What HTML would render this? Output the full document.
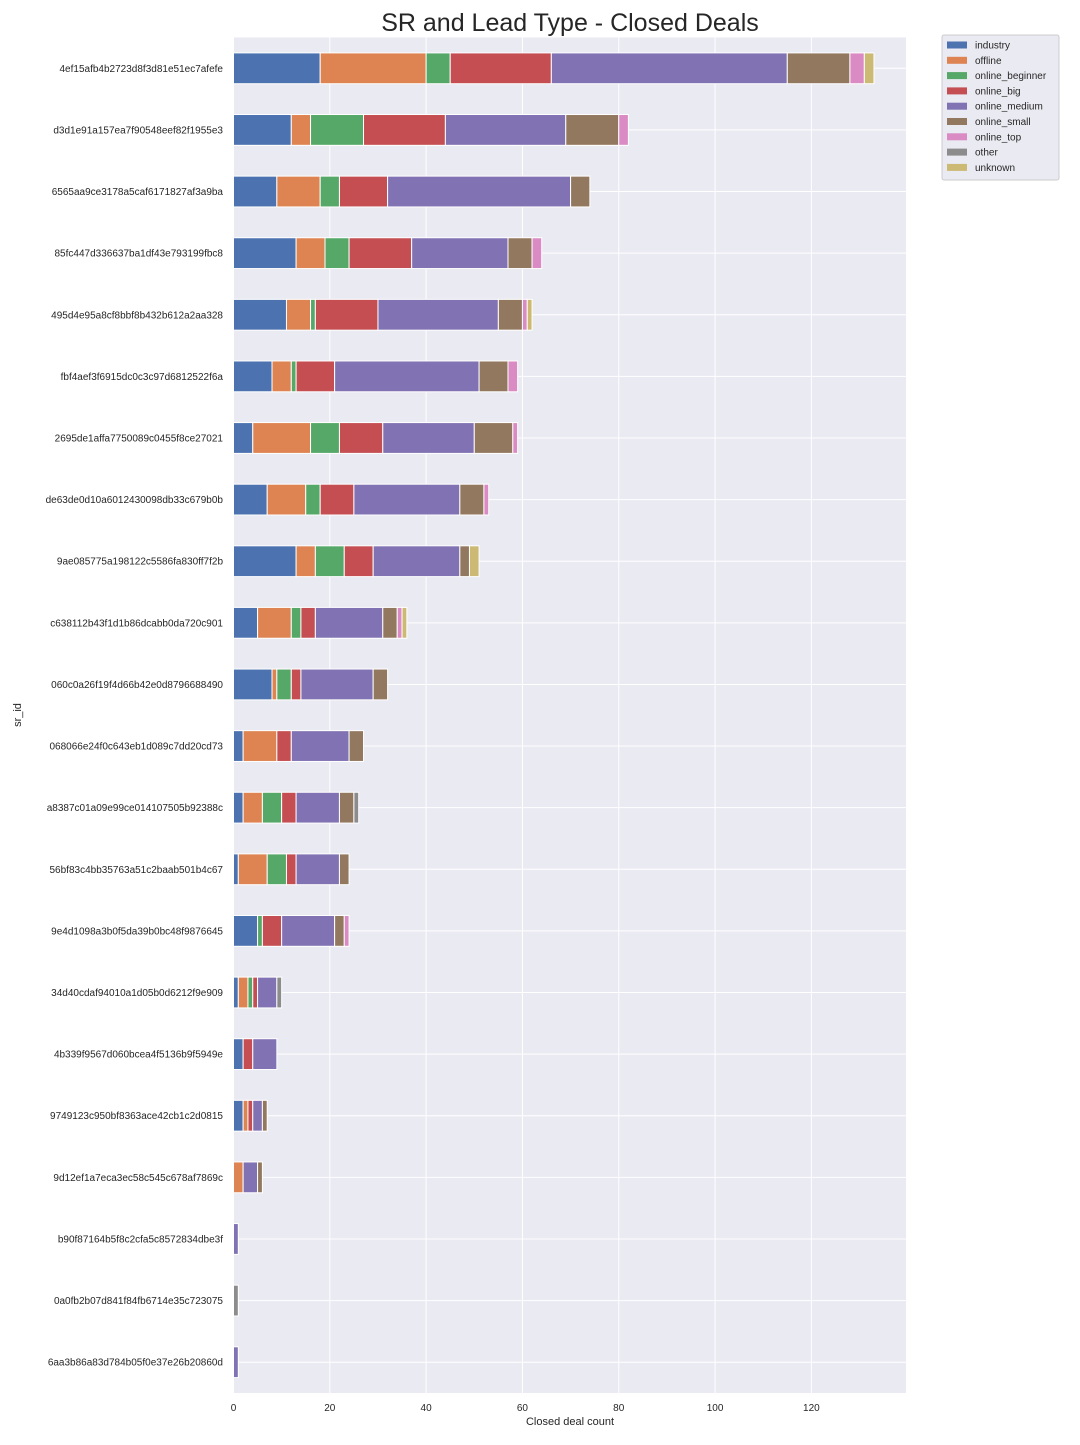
<!DOCTYPE html>
<html><head><meta charset="utf-8"><style>
body{margin:0;background:#fff;font-family:"Liberation Sans",sans-serif;}
svg text{font-family:"Liberation Sans",sans-serif;fill:#262626;}
</style></head><body>
<svg id="chart" width="1080" height="1440" xmlns="http://www.w3.org/2000/svg">
<rect x="0" y="0" width="1080" height="1440" fill="#fff"/>
<text x="570" y="31" font-size="25" text-anchor="middle">SR and Lead Type - Closed Deals</text>
<rect x="233.5" y="37.5" width="672.5" height="1355.5" fill="#eaeaf2"/>
<g id="grid"></g><g id="bars"></g><g id="ylabels"></g><g id="xlabels"></g>
<text x="570" y="1425" font-size="11" text-anchor="middle">Closed deal count</text>
<text x="21" y="715" font-size="11" text-anchor="middle" transform="rotate(-90 21 715)">sr_id</text>
<g id="legend"></g>
</svg>
<script>
const categories=["4ef15afb4b2723d8f3d81e51ec7afefe","d3d1e91a157ea7f90548eef82f1955e3","6565aa9ce3178a5caf6171827af3a9ba","85fc447d336637ba1df43e793199fbc8","495d4e95a8cf8bbf8b432b612a2aa328","fbf4aef3f6915dc0c3c97d6812522f6a","2695de1affa7750089c0455f8ce27021","de63de0d10a6012430098db33c679b0b","9ae085775a198122c5586fa830ff7f2b","c638112b43f1d1b86dcabb0da720c901","060c0a26f19f4d66b42e0d8796688490","068066e24f0c643eb1d089c7dd20cd73","a8387c01a09e99ce014107505b92388c","56bf83c4bb35763a51c2baab501b4c67","9e4d1098a3b0f5da39b0bc48f9876645","34d40cdaf94010a1d05b0d6212f9e909","4b339f9567d060bcea4f5136b9f5949e","9749123c950bf8363ace42cb1c2d0815","9d12ef1a7eca3ec58c545c678af7869c","b90f87164b5f8c2cfa5c8572834dbe3f","0a0fb2b07d841f84fb6714e35c723075","6aa3b86a83d784b05f0e37e26b20860d"];
const seriesNames=["industry","offline","online_beginner","online_big","online_medium","online_small","online_top","other","unknown"];
const seriesColors=["#4c72b0","#dd8452","#55a868","#c44e52","#8172b3","#937860","#da8bc3","#8c8c8c","#ccb974"];
const industry=[18,12,9,13,11,8,4,7,13,5,8,2,2,1,5,1,2,2,0,0,0,0];
const offline=[22,4,9,6,5,4,12,8,4,7,1,7,4,6,0,2,0,1,2,0,0,0];
const online_beginner=[5,11,4,5,1,1,6,3,6,2,3,0,4,4,1,1,0,0,0,0,0,0];
const online_big=[21,17,10,13,13,8,9,7,6,3,2,3,3,2,4,1,2,1,0,0,0,0];
const online_medium=[49,25,38,20,25,30,19,22,18,14,15,12,9,9,11,4,5,2,3,1,0,1];
const online_small=[13,11,4,5,5,6,8,5,2,3,3,3,3,2,2,0,0,1,1,0,0,0];
const online_top=[3,2,0,2,1,2,1,1,0,1,0,0,0,0,1,0,0,0,0,0,0,0];
const other=[0,0,0,0,0,0,0,0,0,0,0,0,1,0,0,1,0,0,0,0,1,0];
const unknown=[2,0,0,0,1,0,0,0,2,1,0,0,0,0,0,0,0,0,0,0,0,0];
const xTicks=[0,20,40,60,80,100,120];
const series=[industry,offline,online_beginner,online_big,online_medium,online_small,online_top,other,unknown];

const NS="http://www.w3.org/2000/svg";
const X0=233.5,X1=906,Y0=37.5,Y1=1393,XMAX=139.65;
const xs=v=>X0+v/XMAX*(X1-X0);
const step=(Y1-Y0)/categories.length;
const yc=i=>Y0+step*(i+0.5);
function mk(tag,attrs,parent){const e=document.createElementNS(NS,tag);for(const k in attrs)e.setAttribute(k,attrs[k]);parent.appendChild(e);return e;}
const grid=document.getElementById('grid'),bars=document.getElementById('bars'),yl=document.getElementById('ylabels'),xl=document.getElementById('xlabels'),lg=document.getElementById('legend');
xTicks.forEach(t=>{
  const l=mk('line',{x1:xs(t),x2:xs(t),y1:Y0,y2:Y1,stroke:'#fff','stroke-width':1},grid);
  
  
  const tx=mk('text',{x:xs(t),y:1411,'font-size':10,'text-anchor':'middle'},xl);
  tx.textContent=t;
  
  
});
categories.forEach((c,i)=>{
  const l=mk('line',{x1:X0,x2:X1,y1:yc(i),y2:yc(i),stroke:'#fff','stroke-width':1},grid);
  
  
  const tx=mk('text',{x:223,y:yc(i)+3.5,'font-size':10,'text-anchor':'end'},yl);
  tx.textContent=c;
  
  
  let acc=0;
  series.forEach((s,k)=>{
    const v=s[i];
    if(v>0){
      const r=mk('rect',{x:xs(acc),y:yc(i)-step/4,width:xs(acc+v)-xs(acc),height:step/2,fill:seriesColors[k],stroke:'#fff','stroke-width':1},bars);
      
      
    }
    acc+=v;
  });
});
const box=mk('rect',{x:942,y:35,width:117,height:145,fill:'#eaeaf2',stroke:'#cccccc','stroke-width':1,rx:2},lg);


seriesNames.forEach((n,k)=>{
  const y=45+k*15.3;
  const sw=mk('rect',{x:947,y:y-3.5,width:20,height:7,fill:seriesColors[k]},lg);
  
  
  const t=mk('text',{x:975,y:y+3.5,'font-size':10},lg);
  t.textContent=n;
  
  
});
</script>
</body></html>
